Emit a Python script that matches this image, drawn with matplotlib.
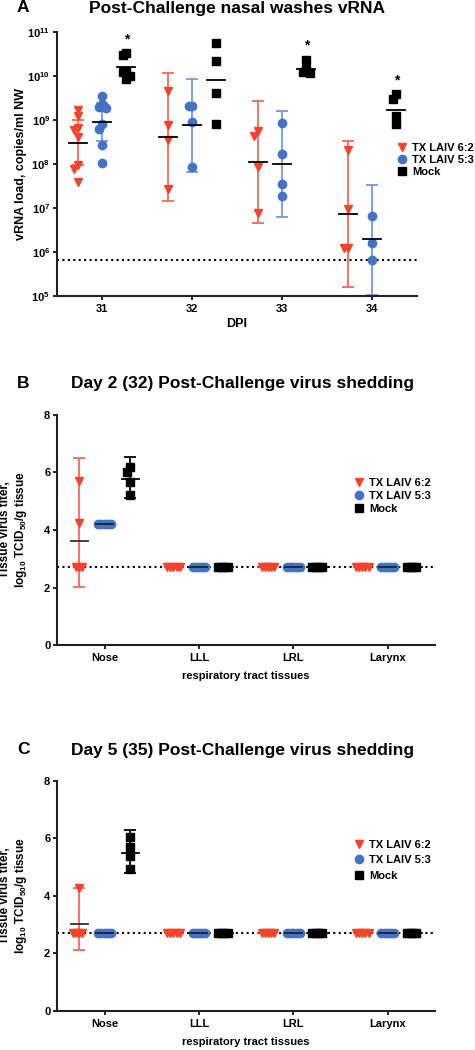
import numpy as np
import matplotlib.pyplot as plt
from matplotlib.lines import Line2D

plt.rcParams['font.family'] = ['Liberation Sans', 'DejaVu Sans']
plt.rcParams['font.weight'] = 'bold'
plt.rcParams['mathtext.fontset'] = 'custom'
plt.rcParams['mathtext.rm'] = 'Liberation Sans:bold'
plt.rcParams['mathtext.bf'] = 'Liberation Sans:bold'
plt.rcParams['mathtext.default'] = 'bf'

# ---- data ----
groups = ['TX LAIV 6:2', 'TX LAIV 5:3', 'Mock']
days = [31, 32, 33, 34]

# panel A: vRNA copies/ml NW, one list per day
a_laiv62 = [[1.7e9, 1.2e9, 6.6e8, 5.9e8, 4.0e8, 9.3e7, 7.4e7, 3.8e7],
            [4.4e9, 7.6e8, 3.5e8, 2.6e7],
            [5.6e8, 4.3e8, 8.3e7, 7.4e6],
            [2.0e8, 9.3e6, 1.2e6, 1.2e6]]
a_laiv53 = [[3.5e9, 2.3e9, 1.9e9, 1.86e9, 7.9e8, 6.3e8, 2.6e8, 1.05e8],
            [2.0e9, 2.0e9, 8.7e8, 8.3e7],
            [8.5e8, 1.7e8, 3.4e7, 1.8e7],
            [6.5e6, 1.6e6, 6.5e5]]
a_mock = [[3.2e10, 3.0e10, 1.3e10, 1.2e10, 1.0e10, 8.3e9],
          [5.5e10, 2.2e10, 4.1e9, 7.9e8],
          [2.3e10, 1.4e10, 1.2e10, 1.15e10],
          [3.8e9, 2.9e9, 1.2e9, 7.9e8]]
a_mean62 = [3.0e8, 4.0e8, 1.07e8, 7.2e6]
a_lo62 = [9.3e7, 1.4e7, 4.5e6, 1.6e5]
a_hi62 = [9.8e8, 1.17e10, 2.7e9, 3.2e8]
a_mean53 = [8.9e8, 7.4e8, 9.8e7, 1.9e6]
a_lo53 = [3.3e8, 6.5e7, 6.3e6, 1.05e5]
a_hi53 = [2.4e9, 8.3e9, 1.55e9, 3.3e7]
a_meanmock = [1.55e10, 7.9e9, 1.45e10, 1.7e9]
a_sig_days = [31, 33, 34]
a_lod = 6.5e5

# panels B and C: log10 TCID50/g tissue
tissues = ['Nose', 'LLL', 'LRL', 'Larynx']
lod_titer = 2.7
b_laiv62 = [[5.72, 4.23, 2.7, 2.7, 2.7], [2.7] * 5, [2.7] * 5, [2.7] * 5]
b_laiv53 = [[4.2] * 5, [2.7] * 5, [2.7] * 5, [2.7] * 5]
b_mock = [[6.20, 6.03, 5.68, 5.22], [2.7] * 4, [2.7] * 4, [2.7] * 4]
b_mean62, b_lo62, b_hi62 = 3.63, 2.03, 6.49
b_meanmock, b_lomock, b_himock = 5.76, 5.10, 6.53

c_laiv62 = [[4.26, 2.7, 2.7, 2.7, 2.7], [2.7] * 5, [2.7] * 5, [2.7] * 5]
c_laiv53 = [[2.7] * 5, [2.7] * 5, [2.7] * 5, [2.7] * 5]
c_mock = [[6.04, 5.71, 5.39, 4.93], [2.7] * 4, [2.7] * 4, [2.7] * 4]
c_mean62, c_lo62, c_hi62 = 3.02, 2.11, 4.29
c_meanmock, c_lomock, c_himock = 5.48, 4.79, 6.30

RED = '#F2432B'
RED_E = '#F26A55'
BLUE = '#4472C4'
BLUE_E = '#7397D5'
styles = [('v', RED, 6), ('o', BLUE, 6), ('s', 'black', 5.5)]
offsets = [-0.27, 0.0, 0.27]


def swarm(vals, to_px, step, min_px=6.0):
    # spread points of similar value sideways
    placed = []
    out = []
    for v in vals:
        p = to_px(v)
        for k in [0, -1, 1, -2, 2, -3, 3]:
            if all(kk != k or abs(p - q) >= min_px for q, kk in placed):
                break
        placed.append((p, k))
        out.append(k * step)
    return out


def draw_points(ax, x, vals, gi, to_px, step):
    m, c, ms = styles[gi]
    dx = swarm(vals, to_px, step)
    ax.plot(np.array(dx) + x, vals, linestyle='none', marker=m, color=c,
            ms=ms, mec=c, zorder=3, clip_on=False)


def draw_stats(ax, x, mean, lo, hi, ecolor, half=0.1, mcolor='black'):
    if lo is not None:
        ax.errorbar([x], [mean], yerr=[[mean - lo], [hi - mean]], fmt='none',
                    ecolor=ecolor, elinewidth=1.3, capsize=4, capthick=1.3,
                    zorder=2, clip_on=False)
    ax.plot([x - half, x + half], [mean, mean], color=mcolor, lw=1.3, zorder=4)


def style_axis(ax):
    for s in ['top', 'right']:
        ax.spines[s].set_visible(False)
    for s in ['left', 'bottom']:
        ax.spines[s].set_linewidth(1.5)
        ax.spines[s].set_color('#222222')
    ax.tick_params(axis='both', which='major', length=3, width=1.2,
                   labelsize=8, pad=2)
    ax.tick_params(axis='both', which='minor', length=0)


def legend_handles():
    return [Line2D([], [], linestyle='none', marker=m, color=c, ms=ms)
            for m, c, ms in styles]


fig = plt.figure(figsize=(4.75, 10.5), dpi=100)
W, H = 475.0, 1050.0

# ---- panel A ----
axA = fig.add_axes([57 / W, 1 - 295.7 / H, 360 / W, 264 / H])
axA.set_yscale('log')
axA.set_xlim(30.5, 34.5)
axA.set_ylim(1e5, 1e11)
logpx = lambda v: np.log10(v) * 44.0
stepA = 3.5 / 90.0
for i, d in enumerate(days):
    draw_stats(axA, d + offsets[0], a_mean62[i], a_lo62[i], a_hi62[i], RED_E)
    draw_stats(axA, d + offsets[1], a_mean53[i], a_lo53[i], a_hi53[i], BLUE_E)
    draw_stats(axA, d + offsets[2], a_meanmock[i], None, None, None)
    draw_points(axA, d + offsets[0], a_laiv62[i], 0, logpx, stepA)
    draw_points(axA, d + offsets[1], a_laiv53[i], 1, logpx, stepA)
    draw_points(axA, d + offsets[2], a_mock[i], 2, logpx, stepA)
    if d in a_sig_days:
        axA.annotate('*', (d + offsets[2], max(a_mock[i])), xytext=(0, 5),
                     textcoords='offset points', ha='center', va='bottom',
                     fontsize=10)
axA.axhline(a_lod, color='black', ls=(0, (1, 1.6)), lw=1.5, zorder=1)
axA.set_xticks(days)
axA.set_yticks([10.0 ** k for k in range(5, 12)])
axA.set_yticklabels([r'$10^{%d}$' % k for k in range(5, 12)])
style_axis(axA)
axA.tick_params(axis='x', pad=3)
axA.set_xlabel('DPI', fontsize=9, fontweight='bold')
axA.xaxis.set_label_coords(0.5, -0.085)
axA.set_ylabel('vRNA load, copies/ml NW', fontsize=9, fontweight='bold')
axA.yaxis.set_label_coords(-0.083, 0.5)
fig.legend(legend_handles(), groups, loc='upper left',
           bbox_to_anchor=(391 / W, 1 - 137 / H), frameon=False, fontsize=8,
           handlelength=1.0, handletextpad=0.4, labelspacing=0.2, borderpad=0)
fig.text(17 / W, 1 - 8 / H, 'A', fontsize=12.5, fontweight='bold', va='center')
fig.text(237 / W, 1 - 8 / H, 'Post-Challenge nasal washes vRNA', fontsize=12.5,
         fontweight='bold', ha='center', va='center')


# ---- panels B and C ----
def titer_panel(rect, p62, p53, pm, s62, smock, title, letter, ty, leg_top, lsp):
    ax = fig.add_axes(rect)
    ax.set_xlim(-0.5, 3.5)
    ax.set_ylim(0, 8)
    linpx = lambda v: v * 28.75
    step = 3.2 / 95.0
    ax.axhline(lod_titer, color='black', ls=(0, (1, 1.6)), lw=1.5, zorder=1)
    for i in range(len(tissues)):
        if i == 0:
            draw_stats(ax, i + offsets[0], s62[0], s62[1], s62[2], RED_E,
                       half=0.09, mcolor='#333333')
            draw_stats(ax, i + offsets[2], smock[0], smock[1], smock[2], 'black',
                       half=0.09)
        else:
            draw_stats(ax, i + offsets[0], np.mean(p62[i]), None, None, None,
                       half=0.09, mcolor=RED)
            draw_stats(ax, i + offsets[2], np.mean(pm[i]), None, None, None,
                       half=0.09)
        draw_stats(ax, i + offsets[1], np.mean(p53[i]), None, None, None,
                   half=0.09, mcolor='#222222')
        draw_points(ax, i + offsets[0], p62[i], 0, linpx, step)
        draw_points(ax, i + offsets[1], p53[i], 1, linpx, step)
        draw_points(ax, i + offsets[2], pm[i], 2, linpx, step)
    ax.set_xticks(range(len(tissues)))
    ax.set_xticklabels(tissues)
    ax.set_yticks([0, 2, 4, 6, 8])
    style_axis(ax)
    ax.tick_params(axis='x', pad=3)
    ax.set_xlabel('respiratory tract tissues', fontsize=8, fontweight='bold')
    ax.xaxis.set_label_coords(0.5, -0.113)
    ax.set_ylabel('Tissue virus titer,\nlog$_{10}$ TCID$_{50}$/g tissue',
                  fontsize=8.5, fontweight='bold', linespacing=1.15)
    ax.yaxis.set_label_coords(-0.076, 0.5)
    fig.legend(legend_handles(), groups, loc='upper left',
               bbox_to_anchor=(348 / W, 1 - leg_top / H), frameon=False,
               fontsize=8, handlelength=1.0, handletextpad=0.4,
               labelspacing=lsp, borderpad=0)
    fig.text(17 / W, 1 - ty / H, letter, fontsize=12.5, fontweight='bold',
             va='center')
    fig.text(243 / W, 1 - ty / H, title, fontsize=12.5, fontweight='bold',
             ha='center', va='center')
    return ax


titer_panel([57.3 / W, 1 - 645 / H, 377.7 / W, 230 / H], b_laiv62, b_laiv53,
            b_mock, (b_mean62, b_lo62, b_hi62),
            (b_meanmock, b_lomock, b_himock),
            'Day 2 (32) Post-Challenge virus shedding', 'B', 383, 472, 0.3)
titer_panel([57.3 / W, 1 - 1010.7 / H, 377.7 / W, 229.7 / H], c_laiv62,
            c_laiv53, c_mock, (c_mean62, c_lo62, c_hi62),
            (c_meanmock, c_lomock, c_himock),
            'Day 5 (35) Post-Challenge virus shedding', 'C', 750, 834, 0.5)

fig.savefig('out.png', dpi=100)
